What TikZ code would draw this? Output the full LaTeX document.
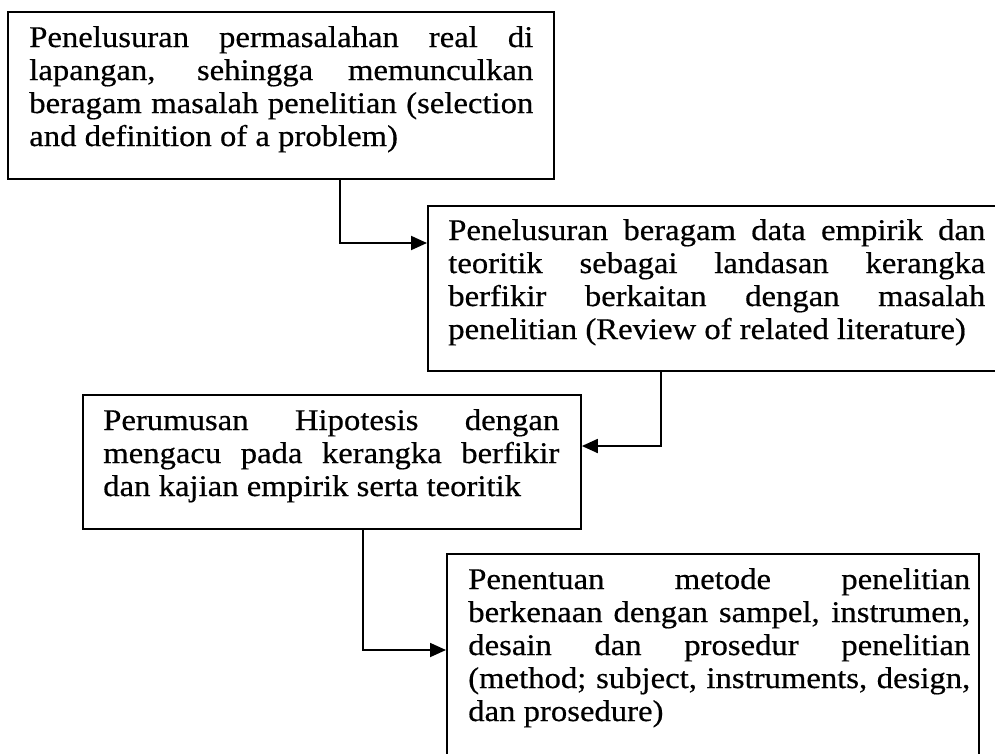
\documentclass[tikz,border=0pt]{standalone}
\usepackage{fontspec}
\setmainfont{Liberation Serif}[FakeStretch=1.09,FakeBold=0.5]
\usetikzlibrary{arrows.meta}
\begin{document}
\begin{tikzpicture}[x=0.75pt,y=-0.75pt,
  boxnode/.style={draw=black, line width=1.4pt, rectangle, inner sep=0pt, anchor=north west},
  txt/.style={inner sep=0pt, anchor=base west, align=justify,
    font={\fontsize{22.5pt}{24.75pt}\selectfont\hyphenpenalty=10000\exhyphenpenalty=10000\tolerance=10000\emergencystretch=2em}},
  conn/.style={line width=1.4pt, -{Triangle[length=12pt,width=10.5pt]}}]
\useasboundingbox (0,0) rectangle (995,753);
\fill[white] (0,0) rectangle (995,753);

\node[boxnode, minimum width=409.5pt, minimum height=125.25pt] (b1) at (7,11) {};
\node[boxnode, minimum width=435pt, minimum height=123.75pt] (b2) at (427,205) {};
\node[boxnode, minimum width=373.5pt, minimum height=100.5pt] (b3) at (82,394) {};
\node[boxnode, minimum width=399pt, minimum height=153.75pt] (b4) at (446,553) {};

\node[txt, text width=378pt] (t1) at (29,47) {Penelusuran permasalahan real di\linebreak lapangan, sehingga memunculkan\linebreak beragam masalah penelitian (selection\linebreak and definition of a problem)};
\node[txt, text width=402.75pt] (t2) at (448,240) {Penelusuran beragam data empirik dan\linebreak teoritik sebagai landasan kerangka\linebreak berfikir berkaitan dengan masalah\linebreak penelitian (Review of related literature)};
\node[txt, text width=342pt] (t3) at (103,430) {Perumusan Hipotesis dengan\linebreak mengacu pada kerangka berfikir\linebreak dan kajian empirik serta teoritik};
\node[txt, text width=376.5pt] (t4) at (468,589) {Penentuan metode penelitian\linebreak berkenaan dengan sampel, instrumen,\linebreak desain dan prosedur penelitian\linebreak (method; subject, instruments, design,\linebreak dan prosedure)};

\draw[conn] ([xshift=249.75pt]b1.south west) |- ([yshift=-28.5pt]b2.north west);
\draw[conn] ([xshift=175.5pt]b2.south west) |- ([yshift=-39pt]b3.north east);
\draw[conn] ([xshift=210.75pt]b3.south west) |- ([yshift=-72.75pt]b4.north west);
\end{tikzpicture}
\end{document}
